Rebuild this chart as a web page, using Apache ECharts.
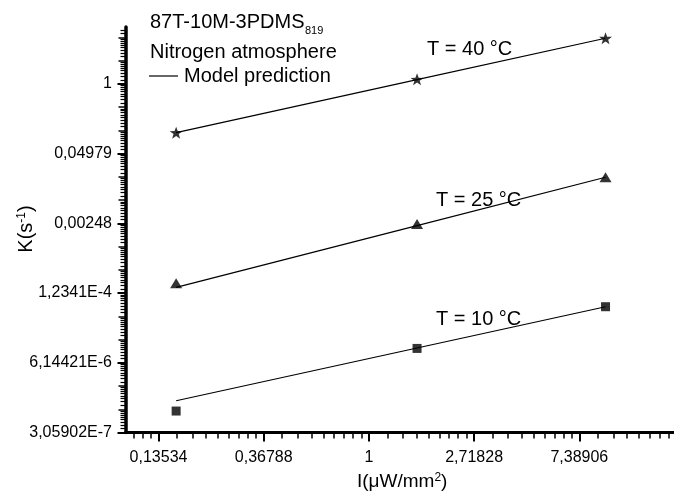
<!DOCTYPE html>
<html>
<head>
<meta charset="utf-8">
<script src="https://cdn.jsdelivr.net/npm/echarts@6/dist/echarts.min.js"></script>
<style>
  html, body { margin: 0; padding: 0; background: #fff; }
  #chart { width: 674px; height: 498px; }
</style>
</head>
<body>
<div id="chart"></div>
<script>
// I (uW/mm2) and K (1/s)
const intensity = [0.16, 1.58, 9.48];
const k40 = [0.123, 1.22, 7.15];
const k25 = [1.88e-4, 2.41e-3, 0.018];
const k10 = [7.7e-7, 1.14e-5, 6.86e-5];
// model prediction at the same intensities
const model40 = [0.123, 1.2, 7.15];
const model25 = [1.58e-4, 2.25e-3, 0.018];
const model10 = [1.2e-6, 1.16e-5, 6.86e-5];

// both axes are ln scales, the labels are the ones printed in the figure
const xTickExp = [-2, -1, 0, 1, 2];
const xTickLabels = ['0,13534', '0,36788', '1', '2,71828', '7,38906'];
const yTickExp = [-15, -12, -9, -6, -3, 0];
const yTickLabels = ['3,05902E-7', '6,14421E-6', '1,2341E-4', '0,00248', '0,04979', '1'];

const xMin = -2.314, xMax = 2.9;
const yMin = -15, yMax = 2.45;
const font = 'Liberation Sans, Arial, sans-serif';

// origin style minor ticks: linear steps of the value inside each e-decade
function minorTicks(lo, hi) {
  let out = [];
  for (let n = Math.floor(lo); n < hi; n++) {
    for (let k = 1; k <= 8; k++) {
      let v = n + Math.log(1 + k * (Math.E - 1) / 9);
      if (v > lo && v < hi) out.push(v);
    }
  }
  return out;
}
let yMedium = [];
for (let n = -14; n <= 2; n++) if (n % 3 !== 0) yMedium.push(n);

function pts(ys) {
  return intensity.map((x, i) => [Math.log(x), Math.log(ys[i])]);
}

const star = 'path://M50,2 L61.8,35.8 L97.6,36.5 L69,58.2 L79.4,92.5 L50,72 L20.6,92.5 L31,58.2 L2.4,36.5 L38.2,35.8 Z';

let myChart = echarts.init(document.getElementById('chart'));
let option = {
  animation: false,
  backgroundColor: '#fff',
  grid: { left: 125.5, top: 27, right: -20.4, bottom: 65.5 },
  xAxis: [
    {
      type: 'value', min: xMin, max: xMax, position: 'bottom',
      axisLine: { show: true, onZero: false, lineStyle: { color: '#000', width: 3 } },
      axisTick: { show: true, customValues: xTickExp, length: 9, lineStyle: { color: '#000', width: 2 } },
      axisLabel: {
        customValues: xTickExp,
        formatter: v => xTickLabels[xTickExp.indexOf(v)],
        margin: 17, color: '#000', fontSize: 16, fontFamily: font
      },
      splitLine: { show: false }
    },
    {
      type: 'value', min: xMin, max: xMax, position: 'bottom',
      axisLine: { show: false, onZero: false },
      axisTick: { show: true, customValues: minorTicks(xMin, xMax), length: 6, lineStyle: { color: '#000', width: 1.5 } },
      axisLabel: { show: false },
      splitLine: { show: false }
    }
  ],
  yAxis: [
    {
      type: 'value', min: yMin, max: yMax, position: 'left',
      axisLine: { show: true, onZero: false, lineStyle: { color: '#000', width: 3.5 } },
      axisTick: { show: true, customValues: yTickExp, length: 8, lineStyle: { color: '#000', width: 2 } },
      axisLabel: {
        customValues: yTickExp,
        formatter: v => yTickLabels[yTickExp.indexOf(v)],
        margin: 13.5, color: '#000', fontSize: 16, fontFamily: font
      },
      splitLine: { show: false }
    },
    {
      type: 'value', min: yMin, max: yMax, position: 'left',
      axisLine: { show: false, onZero: false },
      axisTick: { show: true, customValues: yMedium, length: 7, lineStyle: { color: '#000', width: 1.5 } },
      axisLabel: { show: false },
      splitLine: { show: false }
    },
    {
      type: 'value', min: yMin, max: yMax, position: 'left',
      axisLine: { show: false, onZero: false },
      axisTick: { show: true, customValues: minorTicks(yMin, yMax), length: 5, lineStyle: { color: '#000', width: 1.2 } },
      axisLabel: { show: false },
      splitLine: { show: false }
    }
  ],
  series: [
    { type: 'line', data: pts(model40), showSymbol: false, lineStyle: { color: '#000', width: 1.2 } },
    { type: 'line', data: pts(model25), showSymbol: false, lineStyle: { color: '#000', width: 1.2 } },
    { type: 'line', data: pts(model10), showSymbol: false, lineStyle: { color: '#000', width: 1.2 } },
    { type: 'scatter', data: pts(k40), symbol: star, symbolSize: [13, 12], itemStyle: { color: '#000' } },
    { type: 'scatter', data: pts(k25), symbol: 'triangle', symbolSize: [12, 10], itemStyle: { color: '#000' } },
    { type: 'scatter', data: pts(k10), symbol: 'rect', symbolSize: 9, itemStyle: { color: '#000' } }
  ],
  graphic: [
    { type: 'text', left: 150, top: 12, style: { text: '87T-10M-3PDMS', fontSize: 20, fontFamily: font, fill: '#000' } },
    { type: 'text', left: 305, top: 25, style: { text: '819', fontSize: 11, fontFamily: font, fill: '#000' } },
    { type: 'text', left: 150, top: 42, style: { text: 'Nitrogen atmosphere', fontSize: 20, fontFamily: font, fill: '#000' } },
    { type: 'line', shape: { x1: 149, y1: 76, x2: 178, y2: 76 }, style: { stroke: '#000', lineWidth: 1.2 } },
    { type: 'text', left: 184, top: 66, style: { text: 'Model prediction', fontSize: 20, fontFamily: font, fill: '#000' } },
    { type: 'text', left: 427, top: 39, style: { text: 'T = 40 °C', fontSize: 20, fontFamily: font, fill: '#000' } },
    { type: 'text', left: 436, top: 190, style: { text: 'T = 25 °C', fontSize: 20, fontFamily: font, fill: '#000' } },
    { type: 'text', left: 436, top: 309, style: { text: 'T = 10 °C', fontSize: 20, fontFamily: font, fill: '#000' } },
    {
      type: 'text', left: 357, top: 472,
      style: {
        text: '{n|I(μW/mm}{s|2}{n|)}', fill: '#000',
        rich: { n: { fontSize: 19, fontFamily: font }, s: { fontSize: 12, fontFamily: font, verticalAlign: 'top' } }
      }
    },
    {
      type: 'text', x: 26, y: 229, rotation: Math.PI / 2,
      style: {
        text: '{n|K(s}{s|-1}{n|)}', fill: '#000', align: 'center', verticalAlign: 'middle',
        rich: { n: { fontSize: 20, fontFamily: font }, s: { fontSize: 12, fontFamily: font, verticalAlign: 'top' } }
      }
    }
  ]
};
myChart.setOption(option);
</script>
</body>
</html>
